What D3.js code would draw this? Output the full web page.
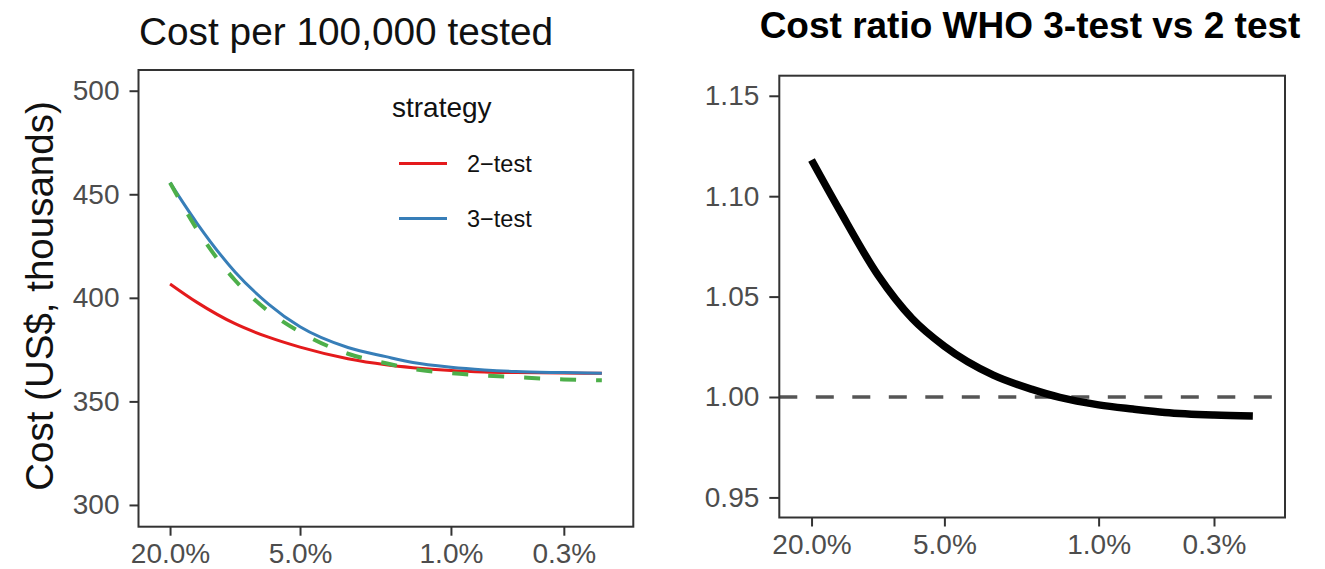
<!DOCTYPE html>
<html>
<head>
<meta charset="utf-8">
<script src="https://cdn.jsdelivr.net/npm/d3@7"></script>
<style>
  html, body { margin: 0; padding: 0; background: #fff; }
  svg { display: block; font-family: "Liberation Sans", Arial, Helvetica, sans-serif; }
</style>
</head>
<body>
<svg id="chart" width="1325" height="569"></svg>
<script>
// ---- data ----
const prevalence = [20, 15, 10, 7, 5, 3, 2, 1.5, 1, 0.7, 0.5, 0.3, 0.2];
const cost2test  = [406.7, 397.8, 387.5, 381.0, 376.2, 370.6, 367.7, 366.3, 364.9, 364.2, 363.9, 363.7, 363.6];
const cost3test  = [455.6, 436.0, 412.5, 397.0, 386.0, 376.0, 371.6, 368.8, 366.5, 365.2, 364.4, 363.9, 363.6];
const costWHO3   = [455.6, 433.0, 408.5, 393.5, 383.5, 373.0, 368.4, 365.7, 363.6, 362.5, 361.7, 360.6, 360.2];
const costRatio  = [1.118, 1.0934, 1.0607, 1.0391, 1.0253, 1.0109, 1.0038, 0.9998, 0.9961, 0.9940, 0.9923, 0.9910, 0.9905];

const xTicks = [20, 5, 1, 0.3];
const xTickLabels = ["20.0%", "5.0%", "1.0%", "0.3%"];
const costTicks = [300, 350, 400, 450, 500];
const ratioTicks = [0.95, 1.00, 1.05, 1.10, 1.15];
const ratioRef = 1.0;
const xLimits = [28, 0.143];
const costLimits = [289.5, 510];
const ratioLimits = [0.940, 1.160];

const legendTitle = "strategy";
const legendLabels = ["2\u2212test", "3\u2212test"];
const leftTitle = "Cost per 100,000 tested";
const rightTitle = "Cost ratio WHO 3-test vs 2 test";
const yTitle = "Cost (US$, thousands)";

const colors = { red: "#E41A1C", blue: "#377EB8", green: "#4DAF4A" };

// ---- layout ----
const svg = d3.select("#chart");
const L = { x0: 138.5, x1: 633.3, y0: 70, y1: 526.7 };
const R = { x0: 779.3, x1: 1285, y0: 75.7, y1: 517.5 };

const xL = d3.scaleLog().domain(xLimits).range([L.x0, L.x1]);
const yL = d3.scaleLinear().domain(costLimits).range([L.y1, L.y0]);
const xR = d3.scaleLog().domain(xLimits).range([R.x0, R.x1]);
const yR = d3.scaleLinear().domain(ratioLimits).range([R.y1, R.y0]);

const tickColor = "#333333";
const labelColor = "#4D4D4D";
const curve = d3.curveMonotoneX;

function styleAxis(g) {
  g.select(".domain").remove();
  g.selectAll(".tick line").attr("stroke", tickColor).attr("stroke-width", 2);
  g.selectAll(".tick text").attr("fill", labelColor).style("font-size", "28px")
    .style("font-family", "'Liberation Sans', Arial, sans-serif");
}

// ---- Left panel ----
svg.append("g").attr("transform", `translate(${L.x0},0)`)
  .call(d3.axisLeft(yL).tickValues(costTicks).tickFormat(d3.format("d")).tickSize(9).tickPadding(10))
  .call(styleAxis);
svg.append("g").attr("transform", `translate(0,${L.y1})`)
  .call(d3.axisBottom(xL).tickValues(xTicks).tickFormat((d, i) => xTickLabels[i]).tickSize(9).tickPadding(7))
  .call(styleAxis);

const lineL = (vals) => d3.line()
  .x((d, i) => xL(prevalence[i]))
  .y(d => yL(d))
  .curve(curve)(vals);

svg.append("path").attr("d", lineL(cost2test)).attr("fill", "none")
  .attr("stroke", colors.red).attr("stroke-width", 3);
svg.append("path").attr("d", lineL(cost3test)).attr("fill", "none")
  .attr("stroke", colors.blue).attr("stroke-width", 3);
svg.append("path").attr("d", lineL(costWHO3)).attr("fill", "none")
  .attr("stroke", colors.green).attr("stroke-width", 4).attr("stroke-dasharray", "16,20");

svg.append("rect").attr("x", L.x0).attr("y", L.y0)
  .attr("width", L.x1 - L.x0).attr("height", L.y1 - L.y0)
  .attr("fill", "none").attr("stroke", tickColor).attr("stroke-width", 2);

svg.append("text").attr("x", 139).attr("y", 45).text(leftTitle)
  .style("font-size", "38.8px").attr("fill", "#111");

svg.append("text")
  .attr("transform", `translate(53,296) rotate(-90)`)
  .attr("text-anchor", "middle").text(yTitle)
  .style("font-size", "38.5px").attr("fill", "#111");

// legend
svg.append("text").attr("x", 392).attr("y", 117).text(legendTitle)
  .style("font-size", "28px").attr("fill", "#111");
const legendColors = [colors.red, colors.blue];
const legendY = [163.5, 218.5];
legendLabels.forEach((lab, i) => {
  svg.append("line").attr("x1", 399).attr("x2", 447)
    .attr("y1", legendY[i]).attr("y2", legendY[i])
    .attr("stroke", legendColors[i]).attr("stroke-width", 3);
  svg.append("text").attr("x", 467).attr("y", legendY[i] + 8.5).text(lab)
    .style("font-size", "23.5px").attr("fill", "#111");
});

// ---- Right panel ----
svg.append("g").attr("transform", `translate(${R.x0},0)`)
  .call(d3.axisLeft(yR).tickValues(ratioTicks).tickFormat(d3.format(".2f")).tickSize(10).tickPadding(10))
  .call(styleAxis);
svg.append("g").attr("transform", `translate(0,${R.y1})`)
  .call(d3.axisBottom(xR).tickValues(xTicks).tickFormat((d, i) => xTickLabels[i]).tickSize(9).tickPadding(8))
  .call(styleAxis);

svg.append("line").attr("x1", R.x0).attr("x2", R.x1)
  .attr("y1", yR(ratioRef)).attr("y2", yR(ratioRef))
  .attr("stroke", "#555555").attr("stroke-width", 3.5).attr("stroke-dasharray", "18,18.5");

svg.append("path").attr("d", d3.line()
    .x((d, i) => xR(prevalence[i]))
    .y(d => yR(d))
    .curve(curve)(costRatio))
  .attr("fill", "none").attr("stroke", "#000").attr("stroke-width", 7.5);

svg.append("rect").attr("x", R.x0).attr("y", R.y0)
  .attr("width", R.x1 - R.x0).attr("height", R.y1 - R.y0)
  .attr("fill", "none").attr("stroke", tickColor).attr("stroke-width", 2);

svg.append("text").attr("x", 1030).attr("y", 38).attr("text-anchor", "middle")
  .text(rightTitle).style("font-size", "37px").style("font-weight", "bold").attr("fill", "#000");
</script>
</body>
</html>
